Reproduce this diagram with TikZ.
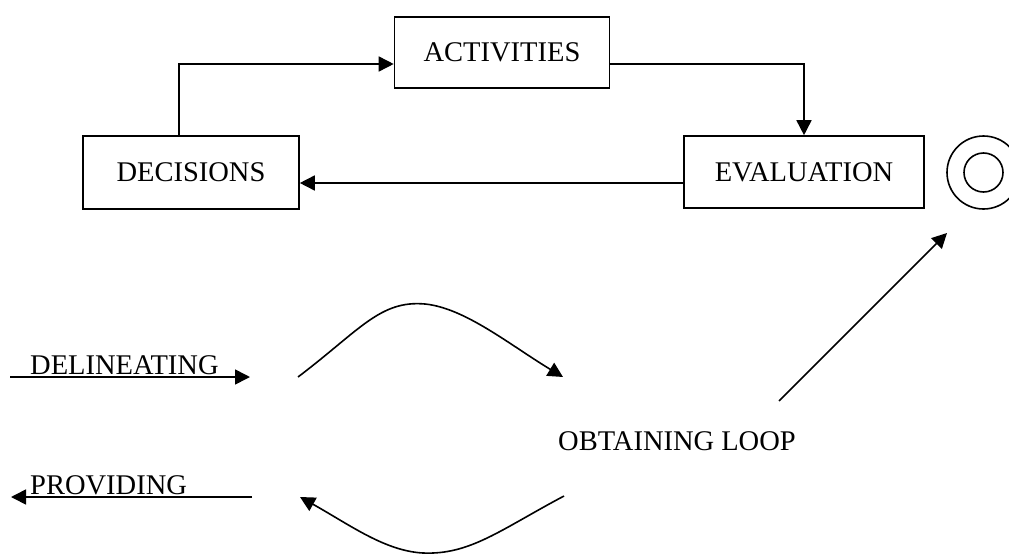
\documentclass[tikz,border=0pt]{standalone}
\usepackage{fontspec}
\setmainfont{Liberation Serif}
\usetikzlibrary{arrows.meta}
\begin{document}
\begin{tikzpicture}[x=1pt,y=-1pt,
  every node/.style={font=\fontsize{28.5}{32}\selectfont},
  boxnode/.style={draw,line width=1.6pt,inner sep=0pt},
  conn/.style={line width=1.6pt,-{Triangle[length=15pt,width=15pt]}},
  plainline/.style={line width=1.6pt}]
\useasboundingbox (0,0) rectangle (1009,554);
% boxes
\node[boxnode,minimum width=215pt,minimum height=71pt] (act) at (502,52.5) {ACTIVITIES};
\node[boxnode,minimum width=216pt,minimum height=73pt] (dec) at (191,172.5) {DECISIONS};
\node[boxnode,minimum width=240pt,minimum height=72pt] (eva) at (804,172) {EVALUATION};
% double circle
\node[draw,circle,line width=1.6pt,minimum size=73pt,inner sep=0pt] (outer) at (983.5,172.5) {};
\node[draw,circle,line width=1.6pt,minimum size=39pt,inner sep=0pt] (inner) at (983.5,172.5) {};
% top loop connectors
\draw[conn] (dec.north -| 179,0) |- (act.west |- 0,64);
\draw[conn] (act.east |- 0,64) -| (eva.north -| 804,0);
\draw[conn] (eva.west |- 0,183) -- (dec.east |- 0,183);
% texts
\node[anchor=base west,inner sep=0pt] (del) at (30,374) {DELINEATING};
\node[anchor=base west,inner sep=0pt] (pro) at (30,494) {PROVIDING};
\node[anchor=base,inner sep=0pt] (obt) at (677,450) {OBTAINING LOOP};
% coordinates
\coordinate (d1) at (10,377);
\coordinate (d2) at (250,377);
\coordinate (p1) at (252,497);
\coordinate (p2) at (11,497);
\coordinate (c1) at (298,377);
\coordinate (c2) at (563,377);
\coordinate (b1) at (564,496);
\coordinate (b2) at (300,497);
\coordinate (g1) at (779,401);
\coordinate (g2) at (947,233);
\draw[conn] (d1) -- (d2);
\draw[conn] (p1) -- (p2);
\draw[conn] (c1) .. controls (360,330) and (380,300) .. (425,304) .. controls (465,308) and (510,345) .. (c2);
\draw[conn] (b1) .. controls (500,530) and (470,555) .. (423,553) .. controls (385,551) and (350,525) .. (b2);
\draw[conn] (g1) -- (g2);
\end{tikzpicture}
\end{document}
